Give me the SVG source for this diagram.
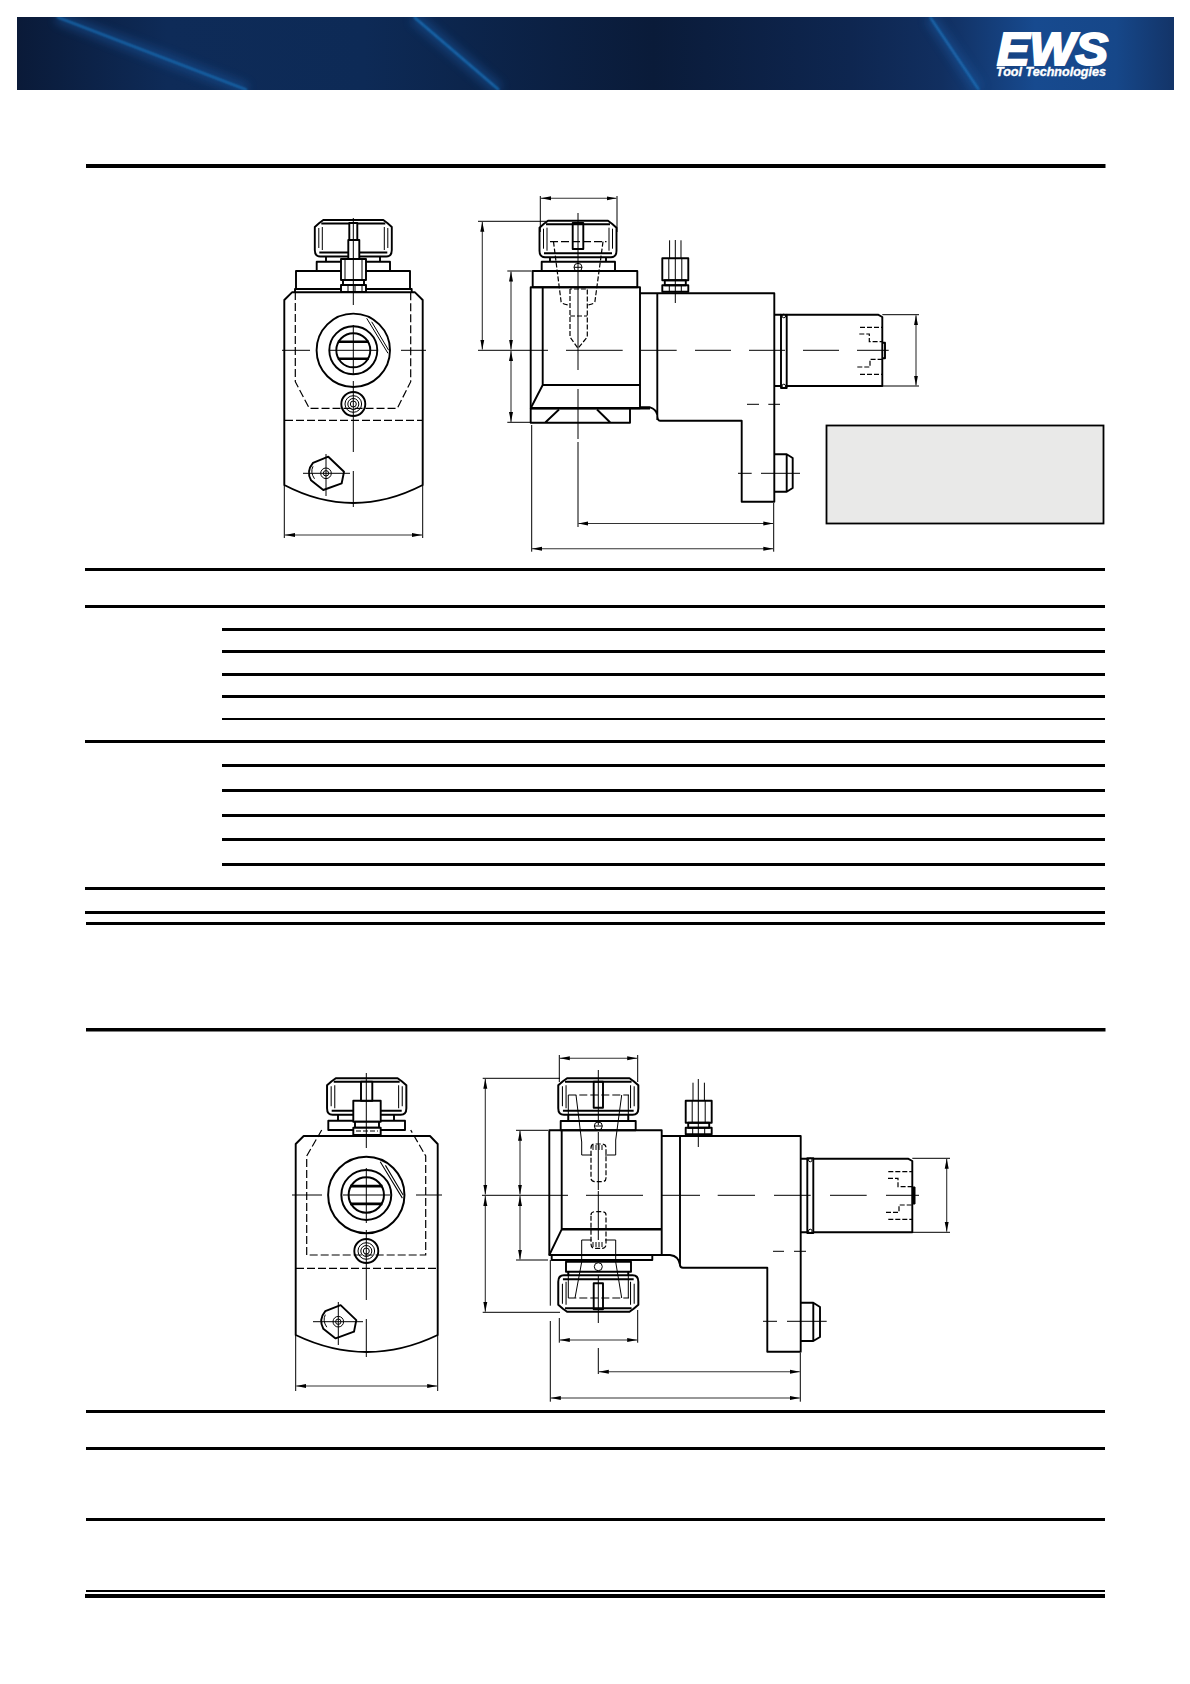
<svg xmlns="http://www.w3.org/2000/svg" width="1190" height="1684" viewBox="0 0 1190 1684">
<style>
.o{fill:none;stroke:#000;stroke-width:1.9;stroke-linejoin:round}
.w{fill:#fff;stroke:#000;stroke-width:1.9;stroke-linejoin:round}
.t{fill:none;stroke:#000;stroke-width:1}
.d{fill:none;stroke:#000;stroke-width:1.2;stroke-dasharray:8 3}
.h{fill:none;stroke:#000;stroke-width:1.2;stroke-dasharray:5 2}
.c{fill:none;stroke:#000;stroke-width:1}
.dim{fill:none;stroke:#333;stroke-width:1.1;marker-start:url(#a);marker-end:url(#a)}
.r{fill:#000}
</style>
<defs>
<linearGradient id="bg" x1="0" y1="0" x2="1" y2="0">
<stop offset="0" stop-color="#0a1a38"/><stop offset="0.13" stop-color="#0e2b58"/><stop offset="0.3" stop-color="#0d2a56"/><stop offset="0.55" stop-color="#0a1b39"/><stop offset="0.72" stop-color="#0e2650"/><stop offset="0.8" stop-color="#112f60"/><stop offset="0.88" stop-color="#174a8f"/><stop offset="0.95" stop-color="#164789"/><stop offset="1" stop-color="#133468"/>
</linearGradient>
<filter id="b1" x="-50%" y="-20%" width="200%" height="140%"><feGaussianBlur stdDeviation="1"/></filter>
<filter id="b2" x="-50%" y="-20%" width="200%" height="140%"><feGaussianBlur stdDeviation="5"/></filter>
<clipPath id="bc"><rect x="17" y="17" width="1157" height="73"/></clipPath>
<marker id="a" markerUnits="userSpaceOnUse" markerWidth="12" markerHeight="6" refX="10" refY="3" orient="auto-start-reverse"><path d="M10 3L0 1V5Z" fill="#000"/></marker>
<g id="nut">
<path class="w" d="M-30 0H30L34 3 38.500 7V30Q38.500 36.500 33 36.500H-33Q-38.500 36.500 -38.500 30V7L-34 3Z"/>
<path class="o" d="M-32 3.500H32M-34 32.500H34"/>
<path class="t" d="M-34.500 8V28M34.500 8V28M-31 7V30M31 7V30"/>
</g>
<g id="drive">
<circle class="o" r="36.700"/><circle class="o" r="24"/><circle class="o" r="17"/>
<path class="o" style="stroke-width:2.600" d="M-15.500 -8.500H15.500M-15.500 8.500H15.500"/>
<path class="t" d="M13.400 -32 L34.700 3M18.400 -28.500L35.400 0"/>
</g>
<g id="nip"><circle class="o" r="12"/><circle class="t" r="8.300"/><circle class="t" r="5.500"/><circle class="t" r="3"/></g>
<g id="plug">
<path class="o" d="M-13 -10.500L2.300 -16.600 18 -1.600 15.700 10 -2.700 16.700 -15 7Q-20 -2 -13 -10.500Z"/>
<path class="t" d="M-13 -7Q-16 -1 -11.500 5.500"/>
<circle class="t" r="5.300"/><circle class="t" r="2.700"/>
</g>
<g id="fit">
<path class="t" d="M-5.700 -18V0M5.700 -18V0"/>
<rect class="o" x="-13" y="0" width="26" height="22"/>
<rect class="o" x="-10.500" y="22" width="21" height="5"/>
<rect class="o" x="-13" y="27" width="26" height="6.500"/>
<path class="t" d="M-6.500 0V22M6.500 0V22M-6 27V33.500M6 27V33.500"/>
</g>
</defs>

<g id="banner" clip-path="url(#bc)">
<rect x="17" y="17" width="1157" height="73" fill="url(#bg)"/>
<path d="M57 17L247 90M414 17L499 90M930 17L979 90" stroke="#1b5ca6" stroke-width="12" opacity=".45" fill="none" filter="url(#b2)"/>
<path d="M57 17L247 90M414 17L499 90M930 17L979 90" stroke="#1c76c0" stroke-width="1.800" fill="none" filter="url(#b1)"/>
</g>
<g id="logo" fill="#fff" font-family="'Liberation Sans',Arial,sans-serif" font-weight="700" font-style="italic">
<text x="997" y="65" font-size="46" textLength="111" lengthAdjust="spacingAndGlyphs" stroke="#fff" stroke-width="2.200">EWS</text>
<text x="996" y="76" font-size="12" textLength="110" lengthAdjust="spacingAndGlyphs" stroke="#fff" stroke-width=".35">Tool Technologies</text>
</g>

<g id="rules">
<rect class="r" x="86" y="164" width="1019.500" height="4"/>
<rect class="r" x="85" y="568" width="1020" height="3"/>
<rect class="r" x="85" y="605" width="1020" height="3"/>
<rect class="r" x="222" y="628" width="883" height="3"/>
<rect class="r" x="222" y="650" width="883" height="3"/>
<rect class="r" x="222" y="673" width="883" height="3"/>
<rect class="r" x="222" y="695" width="883" height="3"/>
<rect class="r" x="222" y="718" width="883" height="2"/>
<rect class="r" x="85" y="740" width="1020" height="3"/>
<rect class="r" x="222" y="764" width="883" height="3"/>
<rect class="r" x="222" y="789" width="883" height="3"/>
<rect class="r" x="222" y="814" width="883" height="3"/>
<rect class="r" x="222" y="838" width="883" height="3"/>
<rect class="r" x="222" y="863" width="883" height="3"/>
<rect class="r" x="85" y="887" width="1020" height="3"/>
<rect class="r" x="85" y="911" width="1020" height="3"/>
<rect class="r" x="86" y="922" width="1019" height="3"/>
<rect class="r" x="86" y="1028" width="1019.500" height="3.500"/>
<rect class="r" x="86" y="1410" width="1019" height="3"/>
<rect class="r" x="86" y="1447" width="1019" height="3"/>
<rect class="r" x="86" y="1518" width="1019" height="3"/>
<rect class="r" x="86" y="1590" width="1019" height="2"/>
<rect class="r" x="85" y="1594" width="1020" height="4"/>
</g>

<g id="note-box"><rect x="826.500" y="425.500" width="277" height="98" fill="#e9e9e8" stroke="#000" stroke-width="1.800"/></g>

<g id="front-a">
<path class="o" d="M284.300 300L292 292.300H415L422.700 300V485Q353 521 284.300 485Z"/>
<path class="o" d="M295 292.300V289H411.700V292.300"/>
<rect class="o" x="296" y="271" width="114" height="18"/>
<rect class="o" x="316.700" y="261.700" width="73.300" height="9.300"/>
<path class="o" d="M326 257V261.700M380 257V261.700"/>
<use href="#nut" transform="translate(353.300 220)"/>
<rect class="w" x="341" y="259" width="25" height="21"/>
<rect class="w" x="348.300" y="240" width="11" height="19"/>
<rect class="w" x="349.300" y="223" width="8" height="17"/>
<rect class="w" x="343" y="280" width="21" height="5"/>
<rect class="w" x="341" y="285" width="25" height="7"/>
<path class="t" d="M345 259V280M362 259V280M348 285V292M355 285V292M362 285V292"/>
<path class="d" d="M295.300 292V381.700L309.300 408.300H397.300L410.700 381.700V292"/>
<path class="d" d="M285 420.300H422"/>
<use href="#drive" transform="translate(353.300 350.300)"/>
<use href="#nip" transform="translate(353.300 404)"/>
<use href="#plug" transform="translate(326 473.300)"/>
<path class="c" d="M353.300 218V305M353.300 325V375M353.300 381V452M353.300 471V507M282 350.300H310M330 350.300H377M401 350.300H426M326 454V496M303 473.300H350"/>
</g>

<g id="side-a">
<path class="o" d="M530.700 287.300H640V408.300H530.700Z"/>
<path class="o" d="M542.700 287.300V385L530.700 408.300M542.700 385H640"/>
<path class="o" d="M640 293.300H774.300V501.700H741.700V420.700H660Q657.300 420.700 657.300 415Q656 409 650 407.300H640M657.300 293.300V420"/>
<path d="M530.700 408.300H650" stroke="#000" stroke-width="2.600" fill="none"/>
<path class="o" d="M530.700 408.300V422.700H630V408.300M545 422.700L559 409.500M610.500 422.700L597 409.500"/>
<rect class="o" x="532.700" y="271" width="104.600" height="16.300"/>
<rect class="o" x="541.700" y="261.700" width="73.300" height="9.300"/>
<path class="o" d="M550 257V261.700M606 257V261.700"/>
<use href="#nut" transform="translate(578 220.700)"/>
<rect class="o" x="572.700" y="223" width="10.600" height="26"/>
<path class="d" d="M550 241.700H606.500"/>
<path class="h" d="M553.500 241.700L561 301Q561 304 568 305M603 241.700L595 301Q595 304 588 305"/>
<circle class="t" cx="578" cy="267.300" r="4"/>
<path class="t" d="M574 267.300H582"/>
<path class="h" d="M570 289V337L578 348.300 587.300 337V289Q587 289 570 289M570 316H587"/>
<use href="#fit" transform="translate(675.300 258.300)"/>
<rect class="o" x="781" y="314.700" width="5.700" height="73.300"/>
<circle class="t" cx="783.800" cy="316" r="1.800"/><circle class="t" cx="783.800" cy="386" r="1.800"/>
<path class="o" d="M774.300 314.700H781M774.300 386H781M786.700 314.700H878L882.300 317V386H786.700"/>
<path class="o" d="M882.300 342.700H885V358.300H882.300"/>
<path class="h" d="M860 327.300H882M860 374.300H882M859.300 334H869.300V341.700H882M857.300 367H870V359.300H882"/>
<path class="o" d="M774.300 454.300H786.700L792.700 458V488L786.700 491.700H774.300M786.700 454.300V491.700"/>
<path class="c" d="M578 213V370M578 389V439M578 442V527M675.300 240V303"/>
<path class="c" d="M478 350.300H548M566 350.300H622.700M641 350.300H676.700M695 350.300H731M749 350.300H785M803 350.300H839M857 350.300H888.700M747 404.300H759M768.300 404.300H780M738 473.300H751.700M761 473.300H800"/>
</g>

<g id="front-b">
<path class="o" d="M295.700 1144L303.700 1136H430L437.700 1144V1335Q367 1369 295.700 1335Z"/>
<rect class="o" x="328.300" y="1120.700" width="76.700" height="9.300"/>
<path class="o" d="M338 1115V1120.700M394 1115V1120.700"/>
<g transform="translate(366.700 1078.300) scale(1.030 1)"><use href="#nut"/></g>
<rect class="w" x="353.300" y="1100.700" width="27.400" height="21"/>
<rect class="w" x="361" y="1081.700" width="11.300" height="19"/>
<rect class="w" x="355" y="1121.700" width="24" height="6"/>
<rect class="w" x="353.300" y="1127.700" width="27.400" height="7.300"/>
<path class="h" d="M356 1131H378"/>
<path class="d" d="M321.700 1130L306.700 1156V1255H425.700V1156L410.700 1130"/>
<path class="d" d="M296 1268.300H437"/>
<g transform="translate(366.300 1195) scale(1.040)"><use href="#drive"/></g>
<use href="#nip" transform="translate(366.300 1251)"/>
<use href="#plug" transform="translate(338.300 1321.700)"/>
<path class="c" d="M366.300 1073V1148M366.300 1168V1223M366.300 1230V1300M366.300 1319V1357M292 1195H322M343 1195H390M416 1195H442M338.300 1302V1345M313 1321.700H363"/>
</g>

<g id="side-b">
<path class="o" d="M549.300 1130.300H661.700V1255H549.300Z"/>
<path class="o" d="M561.700 1130.300V1229.300L549.300 1255"/>
<path d="M561.700 1229.300H661.700" stroke="#000" stroke-width="2.600" fill="none"/>
<rect class="o" x="551.700" y="1255" width="100.600" height="5"/>
<rect class="o" x="566" y="1261.700" width="65" height="10"/>
<path class="o" d="M661.700 1136H800.700V1351.700H767.300V1267.700H683Q680 1267.700 680 1265Q679 1256 670 1255H661.700M680 1136V1266"/>
<rect class="o" x="560.700" y="1121" width="75" height="9.300"/>
<path class="o" d="M568.300 1115V1121M628.300 1115V1121M568.300 1271.700V1275M628.300 1271.700V1275"/>
<g transform="translate(598.300 1078.300) scale(1.040 1)"><use href="#nut"/></g>
<g transform="translate(598.300 1311.700) scale(1.040 -1)"><use href="#nut"/></g>
<rect class="o" x="593.700" y="1081.700" width="9.300" height="26"/>
<rect class="o" x="593.700" y="1283.300" width="9.300" height="26"/>
<path class="d" d="M568.300 1095H629"/>
<path class="t" d="M568.300 1095V1121M628.300 1095V1121M568.300 1272V1298M628.300 1272V1298"/>
<path class="d" d="M568.300 1298H629"/>
<path class="t" d="M576 1095L581.700 1142V1155H591.700M621.700 1095L615.700 1140V1155H605M581.700 1240V1262L575 1298M615.700 1240V1262L621.700 1298M581.700 1240H591.700M605 1240H615.700"/>
<circle class="t" cx="598.300" cy="1126" r="4"/><circle class="t" cx="598.300" cy="1266.700" r="4"/>
<path class="t" d="M594.300 1126H602.300"/>
<path class="h" d="M591 1148Q591 1144 595 1144H602Q606 1144 606 1148V1178Q606 1181.700 602 1181.700H595Q591 1181.700 591 1178Z"/>
<path class="h" d="M591 1215Q591 1211.700 595 1211.700H602Q606 1211.700 606 1215V1244Q606 1248.300 602 1248.300H595Q591 1248.300 591 1244Z"/>
<path class="t" d="M593 1145V1150M596 1145V1150M599 1145V1150M602 1145V1150M593 1242V1247M596 1242V1247M599 1242V1247M602 1242V1247"/>
<use href="#fit" transform="translate(698.700 1100.700)"/>
<rect class="o" x="807.300" y="1158.300" width="6" height="74.700"/>
<circle class="t" cx="810.300" cy="1160" r="1.800"/><circle class="t" cx="810.300" cy="1231" r="1.800"/>
<path class="o" d="M800.700 1158.700H807.300M800.700 1232.300H807.300M813.300 1158.700H908L912.300 1161V1232.300H813.300"/>
<path d="M912.300 1187H915V1204H912.300Z" fill="#000" stroke="#000"/>
<path class="h" d="M888.300 1171.700H912M888.300 1219.300H912M888 1178.300H898V1186.700H912M886 1212.300H899V1205H912"/>
<path class="o" d="M800.700 1302.700H813.300L820 1307V1337L813.300 1341H800.700M813.300 1302.700V1341"/>
<path class="c" d="M598.300 1070V1125M598.300 1132V1190M598.300 1191V1240M598.300 1275V1323M698.300 1079V1147"/>
<path class="c" d="M482 1195.300H568M586 1195.300H643M661.700 1195.300H700M717.700 1195.300H755M774 1195.300H810.700M830 1195.300H866.700M886 1195.300H919M773 1251.300H784M794 1251.300H806M763 1321.300H777M787 1321.300H826.700"/>
</g>

<g id="connectors">
<path class="c" d="M284.300 485V538M422.700 485V538"/>
<path class="dim" d="M285 535H422"/>
<path class="c" d="M540.300 196V232M617 196V232M478 221.300H546.700M507.300 271H531.700M507.300 422.300H530.700M531.700 425V551.700M773.700 503V551.700M882.300 314.700H919M882.300 386H919"/>
<path class="dim" d="M541 198.300H616.500"/>
<path class="dim" d="M482.300 221.700V349.500"/>
<path class="dim" d="M511 271.500V349.500"/>
<path class="dim" d="M511 351V422"/>
<path class="dim" d="M916 315.200V385.500"/>
<path class="dim" d="M578.300 523.500H773.300"/>
<path class="dim" d="M532 548.800H773.300"/>
<path class="c" d="M295.700 1335V1391M437.700 1335V1391"/>
<path class="dim" d="M296.200 1386H437.200"/>
<path class="c" d="M559.300 1055V1082M637.700 1055V1082M482.700 1078.300H560M516 1130.300H548M516 1260H548M482.700 1312.300H560M559.300 1318V1342.700M637.700 1310V1342.700M598.300 1348V1374M550.300 1260V1305.700M550.300 1321V1401.700M800.300 1353V1401.700M912.300 1158.300H950M912.300 1232.300H950"/>
<path class="dim" d="M559.800 1058.300H637.200"/>
<path class="dim" d="M559.800 1340H637.200"/>
<path class="dim" d="M485.300 1078.800V1194.500"/>
<path class="dim" d="M485.300 1196V1311.800"/>
<path class="dim" d="M520 1130.800V1194.500"/>
<path class="dim" d="M520 1196V1259.500"/>
<path class="dim" d="M946.700 1158.800V1231.800"/>
<path class="dim" d="M598.800 1371.800H799.800"/>
<path class="dim" d="M550.800 1398H799.800"/>
</g>
</svg>
